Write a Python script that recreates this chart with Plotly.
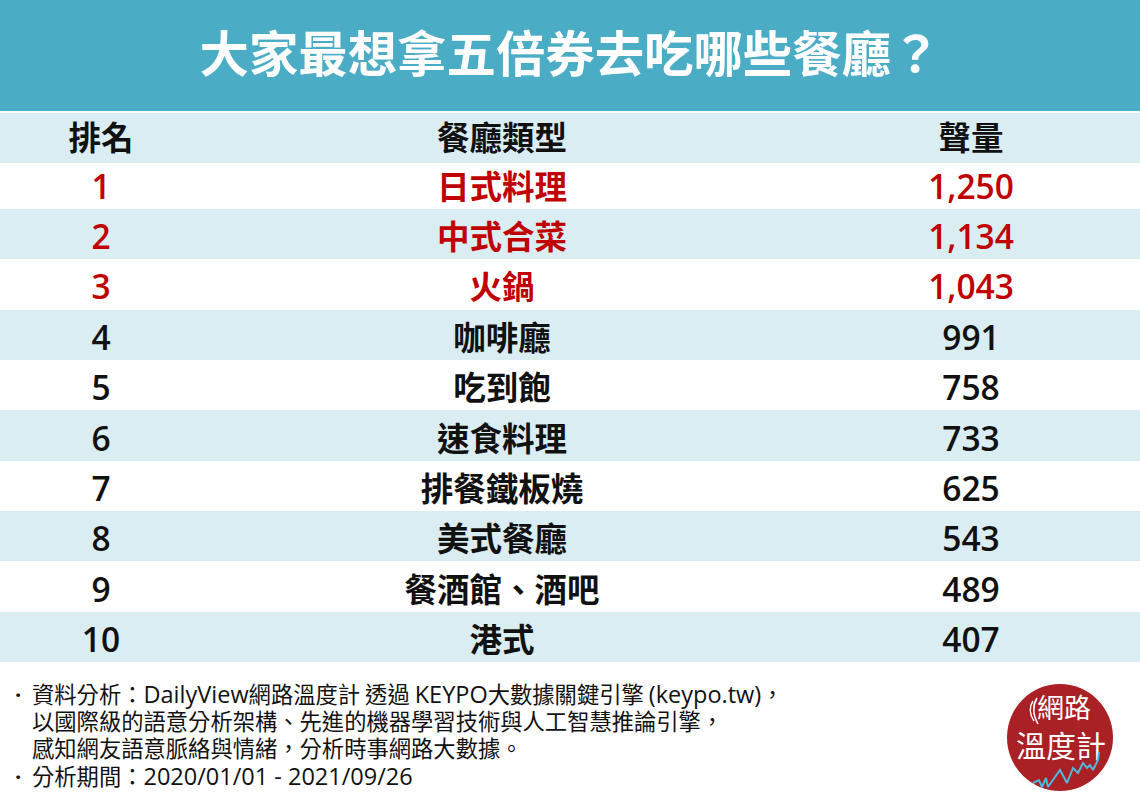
import re
import plotly.graph_objects as go

title = "大家最想拿五倍券去吃哪些餐廳？"
headers = ["排名", "餐廳類型", "聲量"]
ranks = ["1", "2", "3", "4", "5", "6", "7", "8", "9", "10"]
categories = ["日式料理", "中式合菜", "火鍋", "咖啡廳", "吃到飽", "速食料理",
              "排餐鐵板燒", "美式餐廳", "餐酒館、酒吧", "港式"]
volumes = [1250, 1134, 1043, 991, 758, 733, 625, 543, 489, 407]
notes = ["資料分析：DailyView網路溫度計 透過 KEYPO大數據關鍵引擎 (keypo.tw)，",
         "以國際級的語意分析架構、先進的機器學習技術與人工智慧推論引擎，",
         "感知網友語意脈絡與情緒，分析時事網路大數據。",
         "分析期間：2020/01/01 - 2021/09/26"]
logo_lines = ["網路", "溫度計"]
logo_trend_x = [1033, 1039, 1042, 1046, 1048, 1060, 1067, 1073, 1078, 1083, 1087, 1090, 1093, 1098, 1099]
logo_trend_y = [783, 780, 787, 778, 787, 770, 783, 768, 773, 763, 768, 765, 770, 760, 752]

LATIN = "Open Sans, Noto Sans CJK TC, sans-serif"
CJK = "Noto Sans CJK TC, sans-serif"
TEAL, PALE, RED, INK = "#4BACC6", "#DAEDF3", "#C00000", "#111111"
X_RANK, X_NAME, X_VOL = 101, 502, 971
Y_HEADER = 142
row_edges = [163, 209, 259, 310, 360, 410, 461, 511, 561, 612, 662]
row_y = [191, 241, 291, 342, 392, 443, 493, 543, 594, 644]
note_y = [697, 724, 751, 779]

shapes = [dict(type="rect", x0=0, x1=1140, y0=0, y1=111, fillcolor=TEAL, line_width=0, layer="below"),
          dict(type="rect", x0=0, x1=1140, y0=113, y1=163, fillcolor=PALE, line_width=0, layer="below")]
for i in range(1, len(ranks), 2):
    shapes.append(dict(type="rect", x0=0, x1=1140, y0=row_edges[i], y1=row_edges[i + 1],
                       fillcolor=PALE, line_width=0, layer="below"))
shapes.append(dict(type="circle", x0=1007, x1=1113, y0=684, y1=791,
                   fillcolor="#A92025", line_width=0, layer="below"))
for path in ["M 1037 698 Q 1030 710 1038 724", "M 1033 701 Q 1027 710 1034 721"]:
    shapes.append(dict(type="path", path=path, line=dict(color="white", width=1.5), layer="below"))

fig = go.Figure()


def text_trace(xs, ys, texts, colors, size, family=CJK, weight=700, pos="middle center"):
    fig.add_trace(go.Scatter(x=xs, y=ys, text=texts, mode="text", textposition=pos,
                             textfont=dict(family=family, size=size, color=colors, weight=weight),
                             hoverinfo="skip", showlegend=False))


def mixed(line):
    """Set the Latin runs of a note line in the larger Latin face."""
    return re.sub(r"([\x21-\x7e][\x20-\x7e]*[\x21-\x7e]|[\x21-\x7e])",
                  lambda m: f"<span style='font-family:Open Sans;font-size:23.5px'>{m.group(1)}</span>", line)


row_colors = [RED if i < 3 else INK for i in range(len(ranks))]
text_trace([570], [60], [title], ["white"], 49.4)
text_trace([X_RANK, X_NAME, X_VOL], [Y_HEADER] * 3, headers, [INK] * 3, 32.5)
text_trace([X_RANK] * len(ranks), row_y, ranks, row_colors, 33.5, family=LATIN, weight=600)
text_trace([X_NAME] * len(ranks), row_y, categories, row_colors, 32.5)
text_trace([X_VOL] * len(ranks), row_y, [f"{v:,}" for v in volumes], row_colors, 33.5, family=LATIN, weight=600)
text_trace([32] * len(notes), note_y, [mixed(n) for n in notes], [INK] * len(notes), 22.3, weight=400, pos="middle right")
text_trace([15, 15], [note_y[0], note_y[3]], ["·", "·"], [INK, INK], 22, family=LATIN, weight=700, pos="middle right")
text_trace([1064], [711], logo_lines[:1], ["white"], 27, weight=400)
text_trace([1061], [749], logo_lines[1:], ["white"], 30, weight=400)
fig.add_trace(go.Scatter(x=logo_trend_x, y=logo_trend_y, mode="lines",
                         line=dict(color="#4FB8E0", width=2), hoverinfo="skip", showlegend=False))

fig.update_layout(width=1140, height=800, margin=dict(l=0, r=0, t=0, b=0),
                  paper_bgcolor="white", plot_bgcolor="white", shapes=shapes,
                  xaxis=dict(range=[0, 1140], visible=False, fixedrange=True),
                  yaxis=dict(range=[800, 0], visible=False, fixedrange=True))
fig.write_html("out.html",
               post_script="document.body.style.margin='0';document.documentElement.lang='zh-TW';",
               config=dict(displayModeBar=False))
